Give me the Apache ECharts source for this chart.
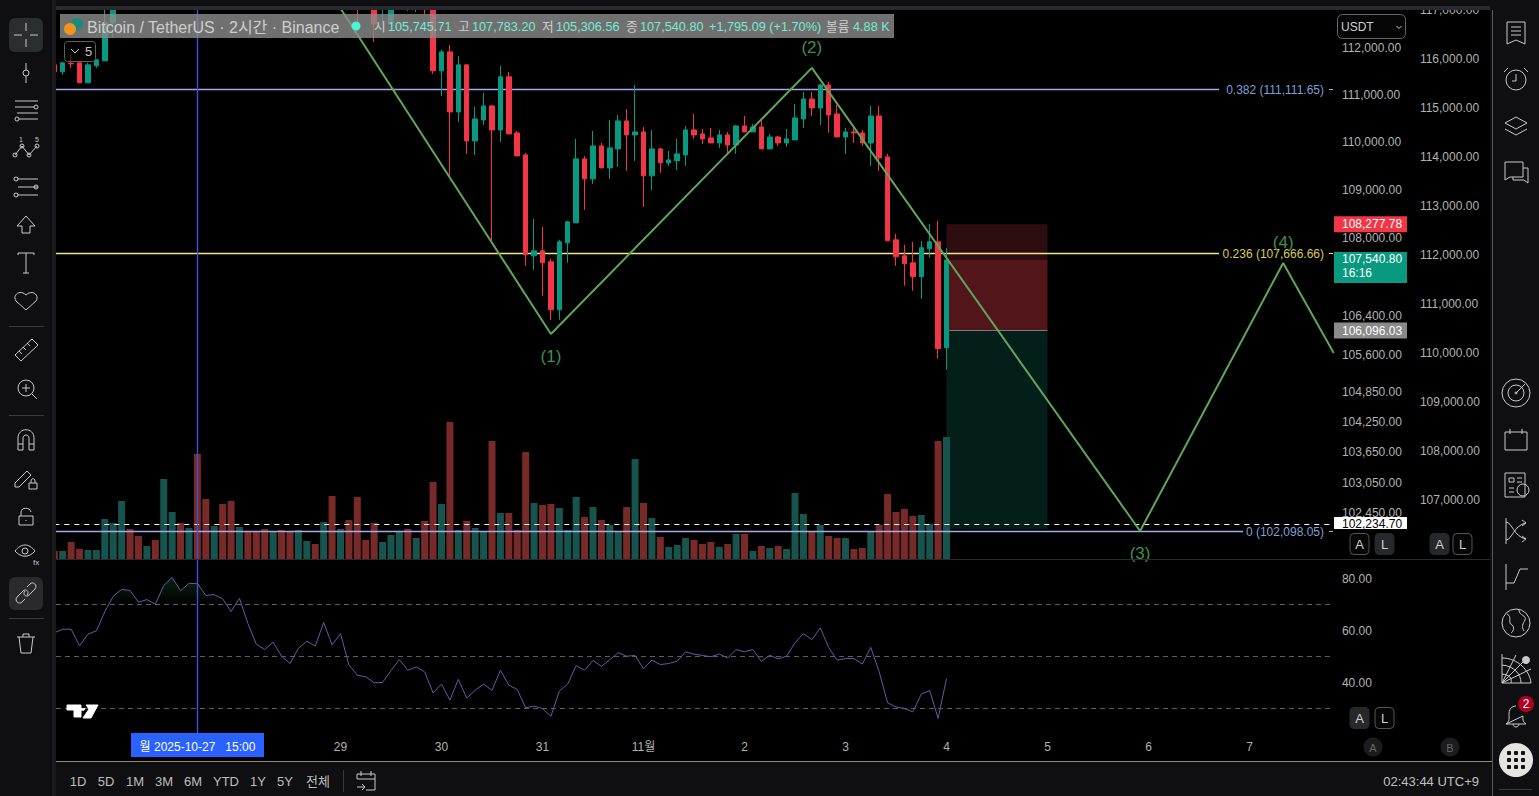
<!DOCTYPE html>
<html><head><meta charset="utf-8">
<style>html,body{margin:0;padding:0;background:#000;overflow:hidden}#c{width:1539px;height:796px}#icons{position:absolute;left:0;top:0;pointer-events:none}</style>
<script src="https://cdn.jsdelivr.net/npm/echarts@6/dist/echarts.min.js"></script>
</head><body><div id="c"></div>
<svg id="icons" width="1539" height="796" xmlns="http://www.w3.org/2000/svg"></svg>
<script>
// ---------- data ----------
// [open, close, low, high]; bars above the visible price range are estimates
const candleRows = [
[111636,111487,111423,111679],[111487,111679,111423,111700],[111668,111658,111572,111850],[111679,111253,111253,111679],
[111253,111636,111253,111679],[111615,111743,111572,111764],[111722,112536,111722,113000],[112536,113100,112214,113300],
[113400,113700,113200,113900],[113700,113600,113400,113800],[113600,113200,113100,113700],[113200,113300,113100,113500],
[113300,113150,113000,113400],[113150,113900,113100,114100],[113900,114500,113800,114700],[114500,114200,114100,114600],
[114200,114600,114100,114800],[114600,114500,114200,115500],[114500,114000,113800,114700],[114000,114100,113800,114300],
[114100,113900,113700,114300],[113900,113400,113200,114000],[113400,113900,113300,114100],[113900,113300,113200,114000],
[113300,113000,112900,113400],[113000,112950,112880,113100],[112950,113150,112900,113300],[113150,113000,112900,113200],
[113000,112900,112870,113100],[112900,113300,112880,113400],[113300,113450,113200,113600],[113450,113300,113200,113500],
[113300,113800,113250,114000],[113800,113400,113300,113900],[113400,113600,113300,113700],[113600,113100,113000,113700],
[113100,112950,112536,113200],[112950,112900,112870,113000],[112900,112515,112128,113000],[112900,113000,112536,113100],
[112536,113100,112536,113200],[113100,113200,112900,113300],[113200,113000,112795,113300],[113000,113100,112774,113200],
[113100,112950,112731,113200],[112950,111509,111444,113100],
[111509,111914,110973,111957],[111914,110634,109245,112064],[110634,111636,110422,111828],[111636,110021,109748,111636],
[110021,110485,109727,110740],[110464,110761,110358,111037],[110761,110253,107935,110782],[110253,111381,110000,111615],
[111381,110169,110169,111487],[110190,109706,109706,110232],[109727,107647,107420,109769],[107626,107729,107338,108391],
[107729,107482,106805,108225],[107503,106519,106315,107565],[106519,107915,106315,107956],[107894,108329,107482,108350],
[108308,109643,108308,110063],[109643,109224,108578,109706],[109224,109916,109119,110232],[109916,109454,109454,109979],
[109454,109874,109224,110464],[109853,110443,109475,110570],[110443,110148,109391,110697],[110148,110211,109601,111207],
[110211,109287,108640,110316],[109287,109853,108994,110253],[109853,109559,109349,109874],[109559,109622,109496,109811],
[109601,109748,109412,110063],[109727,110253,109496,110337],[110253,110148,110063,110591],[110169,110063,109958,110274],
[110084,109979,109979,110295],[109979,110148,109874,110253],[110148,109937,109727,110211],[109937,110337,109748,110358],
[110337,110211,110211,110549],[110211,110316,110211,110380],[110316,109853,109853,110506],[109853,110105,109853,110169],
[110105,109979,109916,110126],[109979,110063,109895,110274],[110042,110506,110042,110803],[110485,110909,110295,111058],
[110909,110718,110549,111058],[110718,111207,110358,111229],[111207,110570,110190,111272],[110591,110105,110105,110782],
[110105,110211,109748,110295],[110211,110190,109979,110337],[110190,109979,109916,110253],[109979,110549,109496,110761],
[110549,109664,109391,110761],[109685,107935,107935,109748],[107956,107606,107420,108080],[107626,107462,107010,107853],
[107482,107195,106907,107915],[107195,107791,106743,107935],[107770,107915,107585,108287],[107915,105727,105525,108350],
[105745.71,107540.80,105306.56,107783.20]];
const volumes = [
320,320,680,400,360,360,1600,1440,2320,1200,920,520,760,3200,1880,1440,1240,4200,2400,1320,
2200,2320,1280,1080,1080,1200,1080,1160,1080,1160,720,600,1480,2520,1200,1560,2480,760,1440,680,
960,1120,1200,840,1520,3080,2200,5480,1160,1520,1240,1120,4720,1840,
1840,1160,4280,2240,2160,2200,2040,1160,2480,1680,2080,1560,1360,1120,2080,4000,2240,1640,880,480,
560,840,760,600,680,480,600,1000,1000,320,520,440,520,400,2640,1800,1120,1360,920,840,
840,400,440,1120,1360,2600,1880,2000,1720,1760,1400,4720,4880];
const rsiValues = [
59.1,60.5,60.5,54.1,58.6,59.9,67.2,73.2,75.8,75.4,70.9,71.9,70.1,77.3,80.4,75.3,78.1,78.1,73.5,73.8,
72.2,67.3,72.4,62.7,54.7,52.7,55.5,50.1,47.3,53.1,55.9,54,63.1,54.5,58.8,46.8,42.8,42.2,39.9,40,
44.6,48.8,44.7,46,44.1,36,39.4,33.2,41.2,34,37,39.4,37,44.7,
39,37.3,30.3,30.9,30,27,36.7,39.4,46.5,44.7,48.5,46.2,48.8,51.5,50.1,50.4,45.3,48.6,46.9,47.3,
48.2,51.8,50.9,50.4,49.9,51,49.4,52.7,51.8,52.7,48.1,50.5,49.1,50.1,55.3,58.8,56.5,61,53.5,48.6,
49.2,49.2,47.1,53.5,44.1,32.2,30.6,30,28.7,35.5,36.9,26.2,41.5];
const rsiLevels = [70,50,30];
const waveTimes = ['2025-10-28 15:00','2025-10-31 03:00','2025-11-02 17:00','2025-11-05 23:00','2025-11-07 09:00','2025-11-07 21:00'];
const wavePrices = [114266,106026,111571,102098,107477,105640];
const waveLabels = ['','(1)','(2)','(3)','(4)',''];
const fibLevels = ['0.382','0.236','0'];
const fibPrices = [111111.65,107666.66,102098.05];
const entryPrice = 106096.03, stopPrice = 108277.78, lastPrice = 107540.80, targetPrice = 102234.70, boxBottom = 102137;
const crosshairTime = '2025-10-27 15:00';
const dateTickTimes = ['2025-10-29 01:00','2025-10-30 01:00','2025-10-31 01:00','2025-11-01 01:00','2025-11-02 01:00','2025-11-03 01:00','2025-11-04 01:00','2025-11-05 01:00','2025-11-06 01:00','2025-11-07 01:00'];
const dateTickLabels = ['29','30','31','11월','2','3','4','5','6','7'];
const leftTicks = [112000,111000,110000,109000,108000,106400,105600,104850,104250,103650,103050,102450];
const rightTicks = [117000,116000,115000,114000,113000,112000,111000,110000,109000,108000,107000];
const rsiTicks = [40,60,80];
const rangeButtons = ['1D','5D','1M','3M','6M','YTD','1Y','5Y','전체'];

// ---------- helpers ----------
const FONT = '"Liberation Sans","Noto Sans CJK KR",sans-serif';
const pad = n => String(n).padStart(2,'0');
const categories = [];
(function(){ let t = Date.UTC(2025,9,26,5); for (let i=0;i<153;i++){ const d=new Date(t);
  categories.push(d.getUTCFullYear()+'-'+pad(d.getUTCMonth()+1)+'-'+pad(d.getUTCDate())+' '+pad(d.getUTCHours())+':00'); t+=7200000; }})();
const fmt = v => Number(v).toLocaleString('en-US',{minimumFractionDigits:2,maximumFractionDigits:2});
const LAST = candleRows.length-1;
const GRID = {left:50.1,width:1287.8};
const UP='#089981', DN='#f23645', VUP='#17544e', VDN='#782a29';

// ---------- custom renderers ----------
function renderBox(params, api){
  const row = boxRows[params.dataIndex];
  const a = api.coord([LAST, row[0]]), b = api.coord([LAST+12, row[1]]);
  return {type:'rect',shape:{x:a[0],y:a[1],width:b[0]-a[0],height:b[1]-a[1]},style:{fill:row[2]}};
}
const boxRows = [[stopPrice,lastPrice,'#2e0d10'],[lastPrice,entryPrice,'#52151a'],[entryPrice,boxBottom,'#041e19']];
const fibStyle = [
 {line:'#a3a8e8',text:'#7f9fd6',end:1219},{line:'#f5e585',text:'#dccb4e',end:1219},{line:'#a3a8e8',text:'#7f9fd6',end:1243}];
function renderFib(params, api){
  const i=params.dataIndex, p=api.coord([0,fibPrices[i]]), s=fibStyle[i], y=Math.round(p[1]-0.5)+0.5;
  return {type:'group',children:[
    {type:'line',shape:{x1:p[0],y1:y,x2:s.end,y2:y},style:{stroke:s.line,lineWidth:1.3}},
    {type:'line',shape:{x1:1329,y1:y,x2:1333,y2:y},style:{stroke:s.line,lineWidth:1}},
    {type:'text',style:{x:1324,y:y,text:fibLevels[i]+' ('+fmt(fibPrices[i])+')',fill:s.text,font:'12px '+FONT,textAlign:'right',textVerticalAlign:'middle'}}
  ]};
}
function renderLevel(params, api){
  const a=api.coord([0,entryPrice]), d=api.coord([0,targetPrice]), e=api.coord([LAST,entryPrice]), f=api.coord([LAST+12,entryPrice]);
  const yd=Math.round(d[1])+0.5;
  return {type:'group',children:[
    {type:'line',shape:{x1:a[0],y1:yd,x2:1333,y2:yd},style:{stroke:'#fff',lineWidth:1,lineDash:[5,5]}},
    {type:'line',shape:{x1:e[0],y1:e[1],x2:f[0],y2:f[1]},style:{stroke:'#7d7d7d',lineWidth:1}}
  ]};
}
function renderCrosshair(params, api){
  const x=Math.round(api.coord([categories.indexOf(crosshairTime),fibPrices[0]])[0]-0.5)+0.5;
  return {type:'line',shape:{x1:x,y1:10,x2:x,y2:733},style:{stroke:'#3f52d6',lineWidth:1.4}};
}
function renderRsiLevel(params, api){
  const p=api.coord([0,rsiLevels[params.dataIndex]]), y=Math.round(p[1]-0.5)+0.5;
  return {type:'line',shape:{x1:56,y1:y,x2:1333,y2:y},style:{stroke:'#5c5c62',lineWidth:1,lineDash:[5,4]}};
}
const tagRows = [
 {p:stopPrice,bg:'#f23645',fg:'#fff',up:8,dn:8},
 {p:lastPrice,bg:'#089981',fg:'#fff',up:8,dn:23,sub:'16:16'},
 {p:entryPrice,bg:'#8a8a8a',fg:'#fff',up:8,dn:8},
 {p:targetPrice,bg:'#ffffff',fg:'#000',up:7,dn:5}];
function renderTag(params, api){
  const t=tagRows[params.dataIndex], y=api.coord([0,t.p])[1], ch=[
    {type:'rect',shape:{x:1334,y:y-t.up,width:73,height:t.up+t.dn},style:{fill:t.bg}},
    {type:'text',style:{x:1342,y:t.sub?y-1:y,text:fmt(t.p),fill:t.fg,font:'12px '+FONT,textVerticalAlign:'middle'}}];
  if(t.sub) ch.push({type:'text',style:{x:1342,y:y+13.5,text:t.sub,fill:t.fg,font:'12px '+FONT,textVerticalAlign:'middle'}});
  return {type:'group',children:ch};
}

// ---------- chrome ----------
const g=[]; const Z=100; let svgParts='';
const rect=(x,y,w,h,fill,extra)=>g.push({type:'rect',z:Z,silent:true,shape:{x,y,width:w,height:h,r:(extra&&extra.r)||0},style:{fill,stroke:extra&&extra.stroke,lineWidth:1}});
const text=(x,y,t,fill,size,align)=>g.push({type:'text',z:Z+2,silent:true,style:{x,y,text:t,fill,font:(size||12)+'px '+FONT,textAlign:align||'left',textVerticalAlign:'middle'}});
const hline=(x1,y,x2,c)=>g.push({type:'line',z:Z+1,silent:true,shape:{x1,y1:y,x2,y2:y},style:{stroke:c,lineWidth:1}});
const vline=(x,y1,y2,c)=>g.push({type:'line',z:Z+1,silent:true,shape:{x1:x,y1,x2:x,y2},style:{stroke:c,lineWidth:1}});
function pathIcon(x,y,d,c,fill){ svgParts+='<path transform="translate('+x+' '+y+')" d="'+d+'" stroke="'+(c||'#c9c9c9')+'" fill="'+(fill||'none')+'" stroke-width="1"/>'; }
const PANEL='#0f0f12';
// panels
rect(0,0,1539,6,PANEL); rect(0,6,1539,4,'#29292d');
rect(0,0,52,796,PANEL); rect(52,0,4,796,'#1b1b1e');
rect(1490,0,49,796,PANEL); vline(1492.5,10,796,'#5a5a5a');
rect(56,762,1434,34,PANEL); hline(56,761.5,1492,'#8f8b80');
hline(56,559.5,1490,'#2b2b2f');
// left toolbar
rect(9,18,34,34,'#2a2e2e',{r:6}); rect(9,577,34,33,'#2a2a2c',{r:6});
[326,415,618].forEach(y=>hline(9,y+.5,44,'#3a3a3d'));
const C='M3 0a3 3 0 1 1-6 0a3 3 0 1 1 6 0';
pathIcon(26,35,'M-12 0H-4M4 0H12M0 -12V-4M0 4V12');
pathIcon(26,73,'M0 -10V-3M0 3V10'+C);
pathIcon(26,110,'M-11 -9H12M-11 -3H8M-7 9H12M-9 3H12M12 -3a2 2 0 1 1-4 0a2 2 0 1 1 4 0M-7 9a2 2 0 1 1-4 0a2 2 0 1 1 4 0');
pathIcon(26,150,'M-11 5L-4 -4L3 5L11 -4M-9 5a2 2 0 1 1-4 0a2 2 0 1 1 4 0M-2 -4a2 2 0 1 1-4 0a2 2 0 1 1 4 0M5 5a2 2 0 1 1-4 0a2 2 0 1 1 4 0M13 -4a2 2 0 1 1-4 0a2 2 0 1 1 4 0');
text(21,139,'1','#c9c9c9',7,'center'); text(37,139,'5','#c9c9c9',7,'center');
pathIcon(26,187,'M-8 -8H12M-8 0H12M-8 8H12M-8 -8a2 2 0 1 1-4 0a2 2 0 1 1 4 0M-8 8a2 2 0 1 1-4 0a2 2 0 1 1 4 0M12 0a2 2 0 1 1-4 0a2 2 0 1 1 4 0');
pathIcon(26,225,'M0 -9L9 1H4V8H-4V1H-9Z');
pathIcon(26,263,'M-8 -8V-10H8V-8M0 -10V10M-3 10H3');
pathIcon(26,300,'M0 10L-10 1C-14 -5 -6 -11 0 -5C6 -11 14 -5 10 1Z');
pathIcon(26,350,'M-11 5L6 -11L12 -5L-5 11ZM-7 1L-4 4M-3 -3L0 0M1 -7L4 -4');
pathIcon(26,389,'M8 -1a8 8 0 1 1-16 0a8 8 0 1 1 16 0M6 5L11 10M-4 -1H4M0 -5V3');
pathIcon(26,440,'M-8 10V-2C-8 -13 8 -13 8 -2V10H3V-2C3 -6 -3 -6 -3 -2V10ZM-8 4H-3M3 4H8');
pathIcon(25,479,'M-10 4L2 -8L6 -4L-6 8L-10 8ZM4 4H12V10H4ZM6 4V2C6 -1 10 -1 10 2V4');
pathIcon(26,517,'M-7 -1H7V8H-7ZM-5 -1V-5C-5 -10 4 -10 5 -5M0 3V4');
pathIcon(25,552,'M10 -1C4 -9 -4 -9 -10 -1C-4 6 4 6 10 -1M3 -1a3 3 0 1 1-6 0a3 3 0 1 1 6 0');
text(33,562,'fx','#c9c9c9',8,'left');
pathIcon(26,593,'M-9 4L-3 -2C0 -5 4 -1 1 2M9 -4L3 2C0 5 -4 1 -1 -2M-9 4C-12 8 -7 12 -4 9L-1 6M9 -4C12 -8 7 -12 4 -9L1 -6');
pathIcon(26,644,'M-9 -7H9M-7 -7L-5 9H5L7 -7M-3 -7V-10H3V-7');
// right toolbar
pathIcon(1516,33,'M-9 -11H9V11L0 7L-9 11ZM-5 -6H5M-5 -2H5M-5 2H5');
pathIcon(1516,79,'M10 1a10 10 0 1 1-20 0a10 10 0 1 1 20 0M0 -5V2H-4M-12 -7L-8 -11M12 -7L8 -11');
pathIcon(1516,126,'M0 -9L11 -3L0 3L-11 -3ZM-11 3L0 9L11 3');
pathIcon(1516,172,'M-11 -10H7V5H-6L-11 8ZM7 -4H12V11L8 8H-3V5');
pathIcon(1516,393,'M14 0a14 14 0 1 1-28 0a14 14 0 1 1 28 0M8 0a8 8 0 1 1-16 0a8 8 0 1 1 16 0M0 0L9 -9M1 0a1 1 0 1 1-2 0a1 1 0 1 1 2 0');
pathIcon(1516,439,'M-11 -7H11V11H-11ZM-6 -10V-5M6 -10V-5');
pathIcon(1516,485,'M-11 -12H9V12H-11ZM-7 -7H-2V-3H-7ZM1 -7H6M1 -3H6M-7 3H-2M-7 7H-2M13 5a6 6 0 1 1-12 0a6 6 0 1 1 12 0');
pathIcon(1516,531,'M-10 -13V13M-10 -9C-4 -9 -2 6 10 8M-10 9C-4 9 -2 -6 10 -8M6 -11L10 -8L6 -5M6 5L10 8L6 11');
pathIcon(1516,577,'M-10 -13V13M-10 6H-2L4 -8H12');
pathIcon(1516,623,'M14 0a14 14 0 1 1-28 0a14 14 0 1 1 28 0M-9 -9C-3 -6 -9 0 -4 2C-1 4 -3 9 -5 10M3 -13C3 -7 11 -8 9 -3C7 1 5 3 8 8');
pathIcon(1516,669,'M-14 -15V14H15M-14 14L8 -8M-14 14L15 0M-14 14L0 -14M-14 5C-6 6 -4 9 -5 14M-14 -4C-2 -3 5 5 5 14M-14 -11C2 -11 14 2 15 14');
g.push({type:'circle',z:Z+2,silent:true,shape:{cx:1526,cy:660,r:4},style:{fill:'#c9c9c9'}});
pathIcon(1516,716,'M-10 8C-6 5 -7 2 -7 -2C-7 -9 -2 -10 0 -10M7 0C7 3 6 5 10 8H-10ZM-3 8C-3 12 3 12 3 8');
g.push({type:'circle',z:Z+2,silent:true,shape:{cx:1526,cy:704,r:8},style:{fill:'#b2001f'}});
text(1526,704,'2','#fff',12,'center');
g.push({type:'circle',z:Z+2,silent:true,shape:{cx:1516,cy:760,r:17},style:{fill:'#e6e4e0'}});
[-7,0,7].forEach(dy=>[-7,0,7].forEach(dx=>g.push({type:'rect',z:Z+3,silent:true,shape:{x:1516+dx-2,y:760+dy-2,width:4,height:4,r:1},style:{fill:'#111'}})));
hline(1499,789.5,1532,'#3a3a3d');
// bottom toolbar
const rangeX=[78,106,135,164,193,226,258,285,318];
rangeButtons.forEach((t,i)=>text(rangeX[i],781,t,'#bdbdbd',13,'center'));
vline(343.5,770,792,'#3a3a3d');
pathIcon(366,781,'M-9 -2V-7H9V9H0M-9 -2H9M-5 -10V-5M5 -10V-5M-9 6H-1M-4 3L-1 6L-4 9');
text(1479,781,'02:43:44 UTC+9','#c0c0c0',13,'right');
// legend band
rect(60,14,834,24,'rgba(140,140,140,0.8)');
g.push({type:'circle',z:Z+2,silent:true,shape:{cx:77,cy:24,r:6},style:{fill:'#178a82'}});
g.push({type:'circle',z:Z+2,silent:true,shape:{cx:70,cy:29,r:6},style:{fill:'#f0941e'}});
text(87,27,'Bitcoin / TetherUS · 2시간 · Binance','#cdcdcd',16);
g.push({type:'circle',z:Z+2,silent:true,shape:{cx:356,cy:26,r:4.5},style:{fill:'#4df2d2'}});
const VAL='#73ecd4',LAB='#cdcdcd';
[[374,'시',LAB],[388,'105,745.71',VAL],[458,'고',LAB],[472,'107,783.20',VAL],[542,'저',LAB],[556,'105,306.56',VAL],[626,'종',LAB],[640,'107,540.80',VAL],[709,'+1,795.09 (+1.70%)',VAL],[826,'볼륨',LAB],[853,'4.88 K',VAL]]
 .forEach(r=>text(r[0],27,r[1],r[2],12.7));
rect(64.5,41.5,31,20,'rgba(0,0,0,0.6)',{r:3,stroke:'#5f5f5f'});
pathIcon(75,51,'M-4 -2L0 2L4 -2'); text(85,51,'5','#c6c6c6',13);
// currency button
rect(1337.5,14.5,68,24,'#050505',{r:5,stroke:'#666'});
text(1341,27,'USDT','#cfcfcf',12); pathIcon(1399,27,'M-2.5 -1L0 1.5L2.5 -1');
// A / L buttons
const btn=(x,y,t,on)=>{rect(x-9,y-10.5,19,21,on?'#26282b':'#060606',{r:4,stroke:on?'#26282b':'#555'}); text(x+.5,y,t,'#d0d0d0',13,'center');};
btn(1359,544,'A',false);btn(1384,544,'L',true);btn(1439,544,'A',true);btn(1462,544,'L',false);btn(1359,718,'A',true);btn(1384,718,'L',false);
[[1373,'A'],[1450,'B']].forEach(r=>{g.push({type:'circle',z:Z,silent:true,shape:{cx:r[0],cy:747,r:9.5},style:{fill:'#1c1c1e'}});text(r[0],748,r[1],'#666',11,'center');});
// crosshair date tag
rect(131,733,133,24,'#2962ff'); text(197.5,747,'월 2025-10-27   15:00','#fff',12,'center');
// watermark logo
pathIcon(83,711,'M-16 -6H-2V6H-9V-1H-16ZM3 -6H15L8 7H0L6 -2ZM2 -3a2.5 2.5 0 1 1-5 0','#fff','#fff');
document.getElementById('icons').innerHTML=svgParts;

// ---------- option ----------
const none={show:false};
const option={
 animation:false, backgroundColor:'#000',
 grid:[
  {left:GRID.left,width:GRID.width,top:8,height:551},
  {left:GRID.left,width:GRID.width,top:8,height:551},
  {left:GRID.left,width:GRID.width,top:560,height:173}],
 xAxis:[0,1,2].map(i=>({type:'category',gridIndex:i,data:categories,boundaryGap:true,axisLine:none,axisTick:none,splitLine:none,
   axisLabel:i<2?{show:false}:{show:true,color:'#b2b2b2',fontSize:12,fontFamily:FONT,margin:8,hideOverlap:false,
     interval:(idx,name)=>dateTickTimes.includes(name),formatter:v=>dateTickLabels[dateTickTimes.indexOf(v)]||''}})),
 yAxis:[
  {type:'log',logBase:10,gridIndex:0,position:'right',min:101552,max:112859,axisLine:none,axisTick:none,splitLine:none,minorTick:none,minorSplitLine:none,
   axisLabel:{show:true,customValues:leftTicks,color:'#b2b2b2',fontSize:12,fontFamily:FONT,margin:4,formatter:fmt}},
  {type:'value',gridIndex:0,position:'right',offset:78,min:105795.9,max:117040.8,axisLine:none,axisTick:none,splitLine:none,
   axisLabel:{show:true,customValues:rightTicks,color:'#b2b2b2',fontSize:12,fontFamily:FONT,margin:4,formatter:fmt}},
  {type:'value',gridIndex:1,min:0,max:22040,show:false,splitLine:none},
  {type:'value',gridIndex:2,position:'right',min:20.58,max:87.12,axisLine:none,axisTick:none,
   splitLine:none,axisLabel:{show:true,customValues:rsiTicks,color:'#b2b2b2',fontSize:12,fontFamily:FONT,margin:4,formatter:v=>Number(v).toFixed(2)}}],
 series:[
  {name:'Position',type:'custom',xAxisIndex:0,yAxisIndex:0,z:1,renderItem:renderBox,data:boxRows.map(r=>[LAST,r[0]]),silent:true},
  {name:'Volume',type:'bar',xAxisIndex:1,yAxisIndex:2,z:1.2,barWidth:7,silent:true,
   data:volumes.map((v,i)=>({value:v,itemStyle:{color:candleRows[i][1]>=candleRows[i][0]?VUP:VDN}}))},
  {name:'Levels',type:'custom',xAxisIndex:0,yAxisIndex:0,z:1.5,renderItem:renderLevel,data:[[0,targetPrice]],silent:true},
  {name:'Fib',type:'custom',xAxisIndex:0,yAxisIndex:0,z:1.6,renderItem:renderFib,data:fibPrices.map(p=>[0,p]),silent:true},
  {name:'Crosshair',type:'custom',xAxisIndex:0,yAxisIndex:0,z:1.7,renderItem:renderCrosshair,data:[[0,fibPrices[0]]],silent:true},
  {name:'BTCUSDT',type:'candlestick',xAxisIndex:0,yAxisIndex:0,z:2,barWidth:5,silent:true,data:candleRows,
   itemStyle:{color:UP,color0:DN,borderColor:UP,borderColor0:DN,borderWidth:1}},
  {name:'Wave',type:'line',xAxisIndex:0,yAxisIndex:0,z:4,silent:true,symbol:'none',showSymbol:true,
   lineStyle:{color:'#5fa65a',width:2},
   data:waveTimes.map((t,i)=>({value:[t,wavePrices[i]],symbol:'circle',symbolSize:0,
     label:{show:!!waveLabels[i],position:(i%2)?'bottom':'top',distance:(i%2)?14:12,formatter:waveLabels[i],color:'#3f8f4f',fontSize:17,fontFamily:FONT}}))},
  {name:'RSI levels',type:'custom',xAxisIndex:2,yAxisIndex:3,z:1,renderItem:renderRsiLevel,data:rsiLevels.map(v=>[0,v]),silent:true},
  {name:'RSI base',type:'line',xAxisIndex:2,yAxisIndex:3,stack:'ob',symbol:'none',silent:true,lineStyle:{width:0},data:rsiValues.map(()=>rsiLevels[0]),z:1},
  {name:'RSI zone',type:'line',xAxisIndex:2,yAxisIndex:3,stack:'ob',symbol:'none',silent:true,lineStyle:{width:0},z:1,
   areaStyle:{color:{type:'linear',x:0,y:0,x2:0,y2:1,colorStops:[{offset:0,color:'rgba(24,90,40,0.55)'},{offset:1,color:'rgba(24,90,40,0)'}]}},
   data:rsiValues.map(v=>Math.max(v-rsiLevels[0],0))},
  {name:'RSI',type:'line',xAxisIndex:2,yAxisIndex:3,z:3,symbol:'none',silent:true,lineStyle:{color:'#6c56a4',width:1},data:rsiValues},
  {name:'Tags',type:'custom',xAxisIndex:0,yAxisIndex:0,z:6,renderItem:renderTag,data:tagRows.map(t=>[0,t.p]),silent:true}
 ],
 graphic:{elements:g}
};
const chart=echarts.init(document.getElementById('c'),null,{renderer:'svg',width:1539,height:796});
chart.setOption(option);
</script></body></html>
